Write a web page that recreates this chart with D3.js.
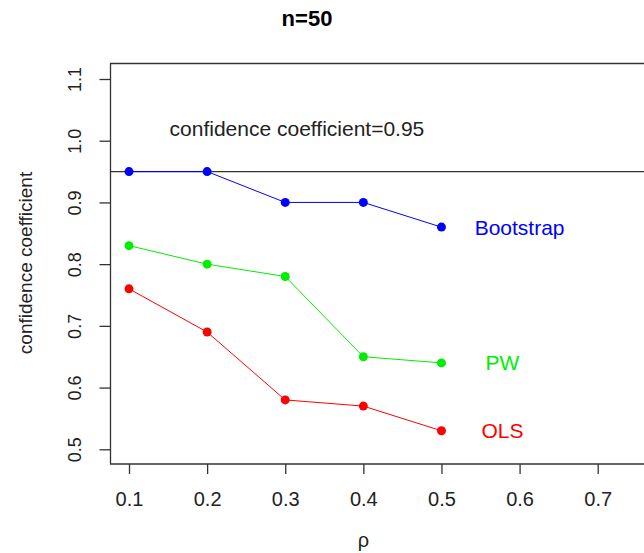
<!DOCTYPE html>
<html>
<head>
<meta charset="utf-8">
<script src="https://cdn.jsdelivr.net/npm/d3@7"></script>
<style>
  body { margin: 0; background: #fff; }
  text { font-family: "Liberation Sans", Arial, sans-serif; }
</style>
</head>
<body>
<div class="canvas"></div>
<script>
// data
var rho = [0.1, 0.2, 0.3, 0.4, 0.5];
var bootstrap = [0.95, 0.95, 0.90, 0.90, 0.86];
var pw = [0.83, 0.80, 0.78, 0.65, 0.64];
var ols = [0.76, 0.69, 0.58, 0.57, 0.53];
var xTicks = [0.1, 0.2, 0.3, 0.4, 0.5, 0.6, 0.7];
var yTicks = [0.5, 0.6, 0.7, 0.8, 0.9, 1.0, 1.1];
var refLevel = 0.95;

var series = [
  {name: "Bootstrap", values: bootstrap, color: "#0000ff", labelX: 0.6},
  {name: "PW", values: pw, color: "#00ee00", labelX: 0.578},
  {name: "OLS", values: ols, color: "#ff0000", labelX: 0.578}
];

var width = 644, height = 553;

var svg = d3.select(".canvas")
  .append("svg")
  .attr("width", width)
  .attr("height", height)
  .style("display", "block");

// scales
var x = d3.scaleLinear().domain([0.1, 0.7]).range([129, 597.7]);
var y = d3.scaleLinear().domain([0.5, 1.1]).range([449.3, 79]);

var box = {left: 110.5, top: 63.5, bottom: 464, right: 700};

// plot box (right side runs off the picture)
svg.append("path")
  .attr("d", `M${box.right},${box.top}H${box.left}V${box.bottom}H${box.right}`)
  .attr("fill", "none")
  .attr("stroke", "#333")
  .attr("stroke-width", 1.3);

// X axis
var gx = svg.append("g")
  .attr("transform", `translate(0,${box.bottom})`)
  .call(d3.axisBottom(x).tickValues(xTicks).tickSize(10).tickPadding(18)
    .tickFormat(d3.format(".1f")));
gx.select(".domain").remove();
gx.selectAll("line").attr("stroke", "#333").attr("stroke-width", 1.3);
gx.selectAll("text")
  .style("font-size", "20px")
  .attr("fill", "#222");

// Y axis
var gy = svg.append("g")
  .attr("transform", `translate(${box.left},0)`)
  .call(d3.axisLeft(y).tickValues(yTicks).tickSize(11)
    .tickFormat(d3.format(".1f")));
gy.select(".domain").remove();
gy.selectAll("line").attr("stroke", "#333").attr("stroke-width", 1.3);
gy.selectAll("text")
  .attr("transform", "rotate(-90)")
  .attr("x", 0)
  .attr("y", -30)
  .attr("dy", 0)
  .attr("text-anchor", "middle")
  .style("font-size", "18px")
  .attr("fill", "#222");

// axis titles
svg.append("text")
  .attr("transform", "translate(32,263) rotate(-90)")
  .attr("text-anchor", "middle")
  .style("font-size", "19px")
  .attr("fill", "#222")
  .text("confidence coefficient");

svg.append("text")
  .attr("x", x(0.4))
  .attr("y", 547)
  .attr("text-anchor", "middle")
  .style("font-size", "20px")
  .attr("fill", "#222")
  .text("ρ");

// title
svg.append("text")
  .attr("x", 307)
  .attr("y", 26)
  .attr("text-anchor", "middle")
  .style("font-size", "22px")
  .style("font-weight", "bold")
  .text("n=50");

// reference line at 0.95
svg.append("line")
  .attr("x1", box.left)
  .attr("x2", box.right)
  .attr("y1", y(refLevel))
  .attr("y2", y(refLevel))
  .attr("stroke", "#333")
  .attr("stroke-width", 1.3);

svg.append("text")
  .attr("x", x(0.315))
  .attr("y", y(1.02))
  .attr("dy", "0.35em")
  .attr("text-anchor", "middle")
  .style("font-size", "21px")
  .attr("fill", "#222")
  .text("confidence coefficient=" + refLevel);

// series lines, points and labels
var line = d3.line()
  .x(function(d, i) { return x(rho[i]); })
  .y(function(d) { return y(d); });

series.forEach(function(s) {
  svg.append("path")
    .datum(s.values)
    .attr("d", line)
    .attr("fill", "none")
    .attr("stroke", s.color)
    .attr("stroke-width", 1);

  svg.selectAll(null)
    .data(s.values)
    .enter()
    .append("circle")
      .attr("cx", function(d, i) { return x(rho[i]); })
      .attr("cy", function(d) { return y(d); })
      .attr("r", 4.5)
      .attr("fill", s.color);

  svg.append("text")
    .attr("x", x(s.labelX))
    .attr("y", y(s.values[s.values.length - 1]))
    .attr("dy", "0.36em")
    .attr("text-anchor", "middle")
    .style("font-size", "21px")
    .attr("fill", s.color)
    .text(s.name);
});
</script>
</body>
</html>
